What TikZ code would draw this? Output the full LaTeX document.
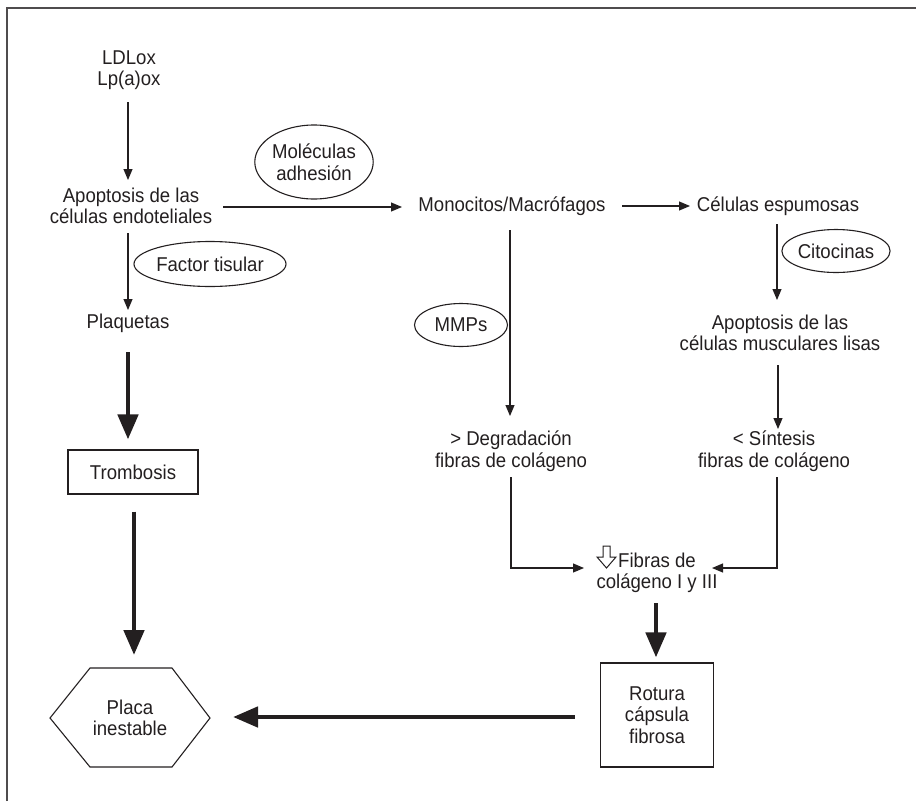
\documentclass[tikz,border=0pt]{standalone}
\usepackage{fontspec}
\setmainfont{Liberation Sans}[FakeStretch=0.93]
\usetikzlibrary{arrows.meta,shapes.geometric,calc}
\definecolor{ink}{HTML}{231F20}
\begin{document}
\begin{tikzpicture}[x=1pt,y=-1pt,
  every node/.style={font=\fontsize{20pt}{21.5pt}\selectfont, text=ink, align=center, inner sep=0pt},
  lbl/.style={},
  oval/.style={draw=ink, ellipse, line width=1.1pt},
  boxx/.style={draw=ink, rectangle, line width=1.1pt},
  tarr/.style={draw=ink, line width=1.1pt, -{Triangle[length=11pt,width=9pt]}},
  barr/.style={draw=ink, line width=4.7pt, -{Triangle[length=25pt,width=20pt]}},
]
\useasboundingbox (0,0) rectangle (916,801);
\draw[line width=1.4pt, draw=ink!80] (7,801) -- (7,8) -- (916,8);

% nodes
\node (ld)   at (129,70)  {LDLox\\Lp(a)ox};
\node (ap1)  at (131,206) {Apoptosis de las\\células endoteliales};
\node[oval, minimum width=116pt, minimum height=74pt] (mol) at (314,162) {Moléculas\\adhesión};
\node[oval, minimum width=135pt, minimum height=45pt] (fac) at (210,264) {Factor tisular};
\node (plq)  at (128,323) {Plaquetas};
\node[boxx, minimum width=130pt, minimum height=44pt] (trom) at (133,472) {Trombosis};
\node (hex)  at (130,718) {Placa\\inestable};
\draw[line width=1.1pt, draw=ink]
  ($(hex.center)+(-80,0)$) -- ($(hex.center)+(-40,-50)$) -- ($(hex.center)+(42,-50)$)
  -- ($(hex.center)+(80,0)$) -- ($(hex.center)+(42,49)$) -- ($(hex.center)+(-40,49)$) -- cycle;

\node (mono) at (512,206) {Monocitos/Macrófagos};
\node (cel)  at (778,206) {Células espumosas};
\node[oval, minimum width=93pt, minimum height=43pt] (mmp) at (461,325) {MMPs};
\node[oval, minimum width=93pt, minimum height=43pt] (cit) at (836,251) {Citocinas};
\node (ap2)  at (780,333) {Apoptosis de las\\células musculares lisas};
\node (deg)  at (511,451) {> Degradación\\fibras de colágeno};
\node (sin)  at (774,451) {< Síntesis\\fibras de colágeno};
\node (fib)  at (657,573) {Fibras de\\colágeno I y III};
\draw[line width=1pt, draw=ink, fill=white, line join=miter]
  ($(fib.center)+(-54,-27)$) -- ($(fib.center)+(-47,-27)$) -- ($(fib.center)+(-47,-16)$)
  -- ($(fib.center)+(-41,-16)$) -- ($(fib.center)+(-50.5,-5)$) -- ($(fib.center)+(-60,-16)$)
  -- ($(fib.center)+(-54,-16)$) -- cycle;
\node[boxx, minimum width=113pt, minimum height=104pt] (rot) at (657,715) {Rotura\\cápsula\\fibrosa};

% thin connectors
\draw[tarr] ($(ld.center)+(-1,32)$) -- ($(ld.center |- ap1.center)+(-1,-26)$);
\draw[tarr] ($(ap1.center)+(92,1)$) -- ($(mono.center)+(-110,1)$);
\draw[tarr] ($(plq.center |- ap1.center)+(0,27)$) -- ($(plq.center)+(0,-13)$);
\draw[tarr] ($(mono.center)+(110,0)$) -- ($(cel.center)+(-88,0)$);
\draw[tarr] ($(deg.center |- mono.center)+(-1,24)$) -- ($(deg.center)+(-1,-35)$);
\draw[tarr] ($(cel.center)+(-1,18)$) -- ($(cel.center |- ap2.center)+(-1,-33)$);
\draw[tarr] ($(ap2.center)+(-2,32)$) -- ($(ap2.center |- sin.center)+(-2,-22)$);
\draw[tarr] ($(deg.center)+(0,26)$) |- ($(fib.center)+(-73,-5)$);
\draw[tarr] ($(sin.center)+(3,26)$) |- ($(fib.center)+(55,-5)$);

% thick connectors
\draw[barr] ($(plq.center)+(0,29)$) -- ($(plq.center |- trom.north)+(0,-10)$);
\draw[barr] ($(trom.south)+(1,17)$) -- ($(trom.south |- hex.center)+(1,-63)$);
\draw[barr] ($(fib.center)+(-1,30)$) -- ($(rot.north)+(-1,-5)$);
\draw[barr] ($(rot.west)+(-25,2)$) -- ($(hex.center)+(103,-1)$);
\end{tikzpicture}
\end{document}
